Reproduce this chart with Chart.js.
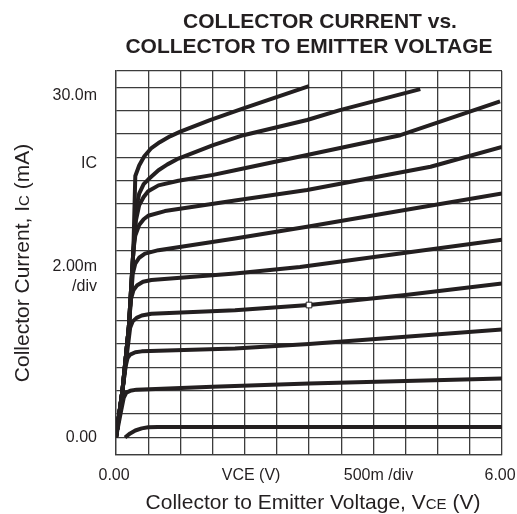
<!DOCTYPE html>
<html>
<head>
<meta charset="utf-8">
<script src="https://cdn.jsdelivr.net/npm/chart.js@4.4.1/dist/chart.umd.min.js"></script>
<style>
  html, body { margin: 0; padding: 0; background: #fff; }
  #wrap { width: 517px; height: 514px; position: relative; }
</style>
</head>
<body>
<div id="wrap"><canvas id="c"></canvas></div>
<script>
// axis ranges (V, mA)
const xMin = 0, xMax = 6, xStep = 0.5;
const yMin = -1.5, yMax = 31.4;
const yGrid = [-1.5, 0, 2, 4, 6, 8, 10, 12, 14, 16, 18, 20, 22, 24, 26, 28, 30, 31.4];

// characteristic curves: [VCE (V), IC (mA)]
const curveA = [[0,0],[0.1,4],[0.2,9.5],[0.27,16],[0.3,22.4],[0.36,23.3],[0.44,24.1],[0.55,24.8],[0.68,25.3],[0.84,25.8],[1.0,26.2],[1.46,27.2],[1.98,28.2],[3.0,30.1]];
const curveB = [[0,0],[0.1,4],[0.2,9.5],[0.27,16],[0.31,19.5],[0.36,20.9],[0.43,21.7],[0.5,22.1],[0.66,22.9],[0.8,23.4],[0.97,23.9],[1.51,25.05],[1.98,25.9],[2.97,27.2],[3.48,28.05],[4.73,29.85]];
const curveC = [[0,0],[0.1,4],[0.2,9.5],[0.27,16],[0.31,18.6],[0.36,19.9],[0.43,20.6],[0.5,21.1],[0.66,21.6],[0.97,22.0],[1.51,22.5],[1.85,22.9],[2.97,24.2],[4.42,25.9],[5.97,28.8]];
const curveD = [[0,0],[0.1,4],[0.2,9.5],[0.27,16],[0.3,17.3],[0.36,18.2],[0.43,18.7],[0.5,19.0],[0.76,19.4],[1.85,20.3],[2.97,21.2],[4.89,23.2],[6,24.9]];
const curveE = [[0,0],[0.1,4],[0.2,9.5],[0.26,14],[0.3,14.9],[0.36,15.4],[0.45,15.75],[0.66,16.05],[1.85,17.05],[2.97,18.05],[4.4,19.4],[6,20.9]];
const curveF = [[0,0],[0.1,4],[0.2,9.5],[0.23,11.8],[0.27,12.6],[0.33,13.05],[0.42,13.35],[0.55,13.5],[1.85,14.06],[2.86,14.6],[6,16.95]];
const curveG = [[0,0],[0.1,4],[0.2,8.5],[0.22,9.4],[0.26,9.95],[0.32,10.25],[0.4,10.45],[0.55,10.6],[1.85,10.9],[3,11.35],[4.5,12.2],[6,13.2]];
const curveH = [[0,0],[0.1,4],[0.15,6.1],[0.18,6.8],[0.22,7.1],[0.3,7.3],[0.4,7.38],[1.85,7.63],[3,8.0],[6,9.26]];
const curveI = [[0,0],[0.08,2.3],[0.12,3.4],[0.16,3.85],[0.22,4.0],[0.32,4.1],[1.5,4.35],[3,4.63],[6,5.06]];
const curveJ = [[0.14,0],[0.22,0.35],[0.3,0.6],[0.4,0.78],[0.5,0.87],[0.65,0.9],[6,0.9]];
const curves = [curveA, curveB, curveC, curveD, curveE, curveF, curveG, curveH, curveI, curveJ];

// cursor marker
const marker = [[3.0, 11.35]];

const ink = '#231f20';
const gridCol = '#3c3c3c';
const FONT = '"Liberation Sans", Arial, Helvetica, sans-serif';

const toPts = arr => arr.map(p => ({ x: p[0], y: p[1] }));

const datasets = curves.map(c => ({
  type: 'line',
  data: toPts(c),
  borderColor: ink,
  borderWidth: 4,
  pointRadius: 0,
  fill: false,
  tension: 0,
  borderCapStyle: 'butt',
  borderJoinStyle: 'round'
}));
datasets.push({
  type: 'scatter',
  order: -1, // on top of the curves
  data: toPts(marker),
  pointStyle: 'rect',
  pointRadius: 4,
  backgroundColor: '#fff',
  borderColor: ink,
  borderWidth: 1
});

// draw runs of text with different sizes (for the small-cap subscripts)
function drawRuns(ctx, runs, x, y, align) {
  let total = 0;
  runs.forEach(r => { ctx.font = r.font; total += ctx.measureText(r.t).width; });
  let cx = align === 'center' ? x - total / 2 : (align === 'right' ? x - total : x);
  ctx.textAlign = 'left';
  runs.forEach(r => {
    ctx.font = r.font;
    ctx.fillText(r.t, cx, y);
    cx += ctx.measureText(r.t).width;
  });
}

const textPlugin = {
  id: 'texts',
  afterDraw(chart) {
    const ctx = chart.ctx;
    const xs = chart.scales.x, ys = chart.scales.y;
    const area = chart.chartArea;
    ctx.save();
    ctx.fillStyle = ink;
    ctx.textBaseline = 'alphabetic';

    // title
    ctx.font = 'bold 21px ' + FONT;
    ctx.textAlign = 'center';
    ctx.fillText('COLLECTOR CURRENT vs.', 320, 28);
    ctx.fillText('COLLECTOR TO EMITTER VOLTAGE', (area.left + area.right) / 2, 53);

    // y side labels
    ctx.font = '16px ' + FONT;
    ctx.textAlign = 'right';
    ctx.textBaseline = 'middle';
    const yl = 97;
    ctx.fillText('30.0m', yl, ys.getPixelForValue(29.3));
    ctx.fillText('IC', yl, ys.getPixelForValue(23.5));
    ctx.fillText('2.00m', yl, ys.getPixelForValue(14.6));
    ctx.fillText('/div', yl, ys.getPixelForValue(12.9));
    ctx.fillText('0.00', yl, ys.getPixelForValue(0));

    // x side labels
    const xy = area.bottom + 21;
    ctx.textAlign = 'center';
    ctx.fillText('0.00', xs.getPixelForValue(-0.03), xy);
    ctx.fillText('VCE (V)', xs.getPixelForValue(2.1), xy);
    ctx.fillText('500m /div', xs.getPixelForValue(4.08), xy);
    ctx.fillText('6.00', xs.getPixelForValue(5.97), xy);

    // axis titles
    const big = '21px ' + FONT, small = '15px ' + FONT;
    ctx.textBaseline = 'alphabetic';
    drawRuns(ctx, [
      { t: 'Collector to Emitter Voltage, V', font: big },
      { t: 'CE', font: small },
      { t: ' (V)', font: big }
    ], (area.left + area.right) / 2 + 4, area.bottom + 54, 'center');

    ctx.translate(29, (area.top + area.bottom) / 2);
    ctx.rotate(-Math.PI / 2);
    drawRuns(ctx, [
      { t: 'Collector Current, I', font: big },
      { t: 'C', font: small },
      { t: ' (mA)', font: big }
    ], 0, 0, 'center');
    ctx.restore();
  }
};

new Chart(document.getElementById('c'), {
  data: { datasets },
  plugins: [textPlugin],
  options: {
    responsive: true,
    maintainAspectRatio: false,
    animation: false,
    events: [],
    layout: { padding: { left: 116, right: 15, top: 71, bottom: 59 } },
    plugins: { legend: { display: false }, tooltip: { enabled: false } },
    scales: {
      x: {
        type: 'linear',
        min: xMin, max: xMax,
        ticks: { display: false, stepSize: xStep },
        grid: { color: gridCol, lineWidth: 1.3, drawTicks: false },
        border: { color: gridCol, width: 1.3 }
      },
      y: {
        type: 'linear',
        min: yMin, max: yMax,
        afterBuildTicks: s => { s.ticks = yGrid.map(v => ({ value: v })); },
        ticks: { display: false },
        grid: { color: gridCol, lineWidth: 1.3, drawTicks: false },
        border: { color: gridCol, width: 1.3 }
      }
    }
  }
});
</script>
</body>
</html>
